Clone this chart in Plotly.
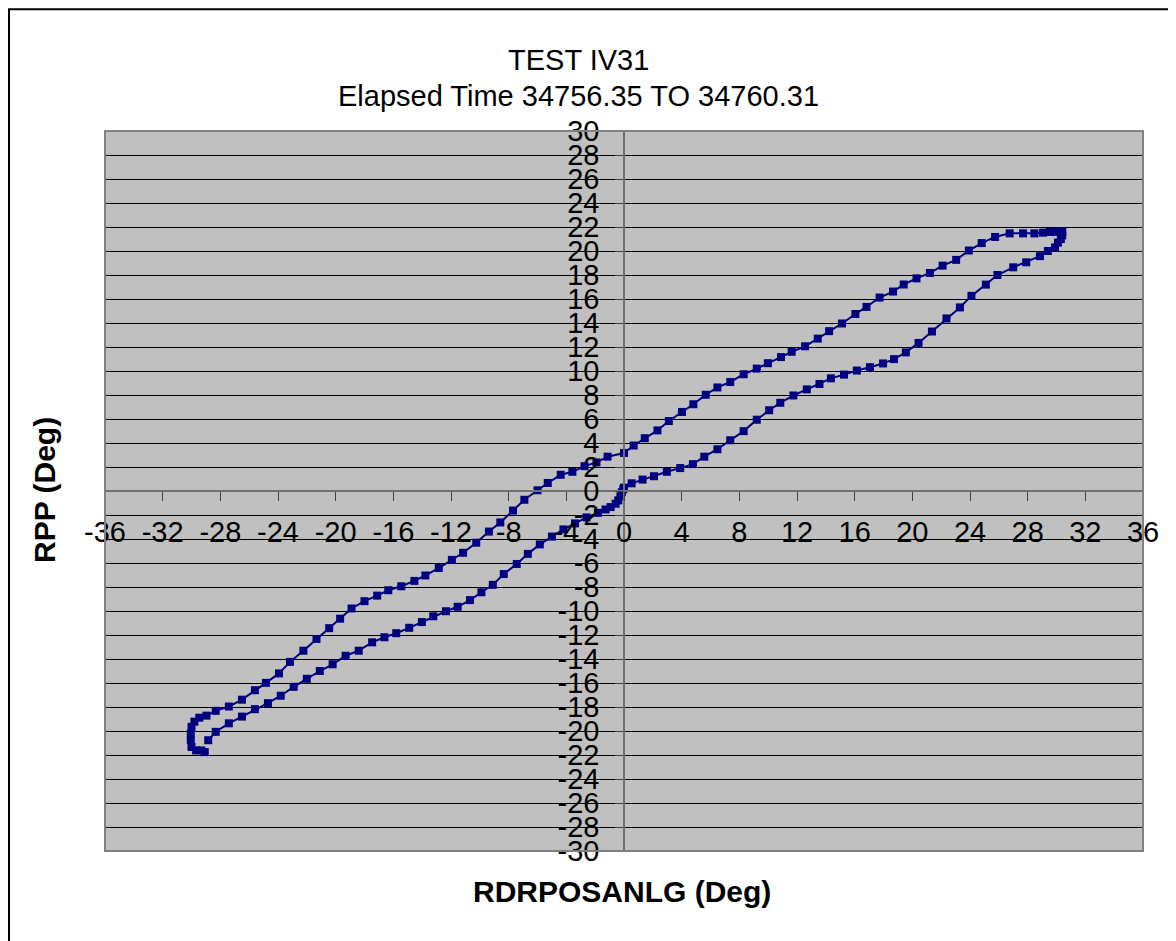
import plotly.graph_objects as go

# ---- data ----
x_lower_right = [-0.25, -0.15, -0.05, 0.0, 0.53, 1.29, 2.08, 2.97, 3.9, 4.78, 5.57, 6.48, 7.37, 8.3, 9.21,
                 10.07, 10.84, 11.75, 12.68, 13.56, 14.35, 15.26, 16.15, 17.06, 17.97, 18.73, 19.55, 20.43,
                 21.36, 22.37, 23.3, 24.1, 25.1, 25.9, 27.0, 27.9, 28.85, 29.4, 29.9, 30.1, 30.3, 30.4]
y_lower_right = [-0.45, -0.1, 0.15, 0.28, 0.64, 0.95, 1.23, 1.6, 1.91, 2.24, 2.86, 3.48, 4.23, 4.99, 5.94,
                 6.73, 7.35, 7.96, 8.47, 8.92, 9.39, 9.7, 10.04, 10.32, 10.63, 10.99, 11.55, 12.34,
                 13.29, 14.38, 15.3, 16.26, 17.2, 18.0, 18.64, 19.06, 19.57, 20.0, 20.3, 20.7, 21.0, 21.3]

x_upper_right = [30.4, 30.2, 30.0, 29.55, 29.07, 28.47, 27.68, 26.75, 25.74, 24.81, 23.92, 23.04, 22.1,
                 21.22, 20.29, 19.4, 18.66, 17.73, 16.82, 16.05, 15.12, 14.23, 13.44, 12.56, 11.63, 10.89,
                 9.98, 9.21, 8.3, 7.37, 6.48, 5.67, 4.81, 4.02, 3.11, 2.32, 1.44, 0.67, 0.0]
y_upper_right = [21.6, 21.65, 21.6, 21.59, 21.53, 21.47, 21.47, 21.47, 21.17, 20.66, 20.04, 19.26, 18.78,
                 18.17, 17.72, 17.21, 16.62, 16.12, 15.34, 14.75, 13.96, 13.32, 12.7, 12.06, 11.6, 11.16,
                 10.65, 10.2, 9.73, 9.08, 8.63, 8.02, 7.23, 6.59, 5.83, 5.05, 4.4, 3.79, 3.17]

x_upper_left = [-1.14, -1.91, -2.74, -3.58, -4.39, -5.29, -6.0, -6.91, -7.7, -8.58, -9.37, -10.25, -11.16,
                -11.94, -12.85, -13.78, -14.54, -15.45, -16.35, -17.12, -18.0, -18.9, -19.69, -20.45,
                -21.33, -22.24, -23.17, -23.93, -24.84, -25.6, -26.5, -27.41, -28.32, -28.96, -29.46,
                -29.8, -30.0, -30.05, -30.05, -30.0, -29.68, -29.32, -29.08]
y_upper_left = [2.86, 2.38, 2.07, 1.6, 1.35, 0.67, 0.06, -0.73, -1.63, -2.62, -3.38, -4.31, -5.15,
                -5.74, -6.42, -7.04, -7.49, -7.94, -8.27, -8.72, -9.18, -9.79, -10.64, -11.43,
                -12.33, -13.31, -14.24, -15.2, -15.99, -16.6, -17.39, -17.96, -18.32, -18.72, -18.89,
                -19.22, -19.65, -20.21, -20.77, -21.33, -21.62, -21.62, -21.76]

x_lower_left = [-28.84, -28.32, -27.41, -26.5, -25.6, -24.7, -23.81, -22.91, -22.0, -21.1, -20.21, -19.31,
                -18.4, -17.47, -16.62, -15.8, -14.9, -14.02, -13.23, -12.35, -11.54, -10.68, -9.89, -9.1,
                -8.34, -7.44, -6.67, -5.84, -5.0, -4.2, -3.4, -2.6, -1.81, -1.28, -0.93, -0.58, -0.4]
y_lower_left = [-20.77, -20.07, -19.36, -18.8, -18.18, -17.68, -17.06, -16.32, -15.65, -15.0, -14.44, -13.73,
                -13.31, -12.61, -12.19, -11.85, -11.4, -10.92, -10.44, -10.02, -9.65, -9.09, -8.44, -7.82,
                -6.92, -6.08, -5.24, -4.45, -3.8, -3.2, -2.7, -2.2, -1.82, -1.54, -1.34, -1.06, -0.78]

x_tick_vals = list(range(-36, 37, 4))
x_tick_text = [str(v) for v in x_tick_vals]
y_tick_vals = list(range(-30, 31, 2))
y_tick_text = [str(v) for v in y_tick_vals]

title_line1 = "TEST IV31"
title_line2 = "Elapsed Time 34756.35 TO 34760.31"
x_title = "RDRPOSANLG (Deg)"
y_title = "RPP (Deg)"

# ---- figure ----
xs = x_lower_left + x_lower_right + x_upper_right + x_upper_left
ys = y_lower_left + y_lower_right + y_upper_right + y_upper_left

FONT = "Liberation Sans, Arial, sans-serif"
NAVY = "#000080"

fig = go.Figure()
fig.add_trace(go.Scatter(
    x=xs, y=ys, mode="lines+markers",
    line=dict(color=NAVY, width=2),
    marker=dict(symbol="square", size=8, color=NAVY),
    showlegend=False, hoverinfo="x+y",
))

fig.update_layout(
    width=1168, height=933,
    margin=dict(l=97, r=33, t=123, b=90),
    paper_bgcolor="white",
    plot_bgcolor="#C0C0C0",
    font=dict(family=FONT, size=29, color="black"),
    xaxis=dict(
        range=[-36, 36], anchor="free", position=0.5,
        tickmode="array", tickvals=x_tick_vals, ticktext=x_tick_text,
        ticks="outside", ticklen=9, tickcolor="#404040", tickwidth=1,
        ticklabelstandoff=6, tickangle=0,
        showline=True, linecolor="#707070", linewidth=1.5,
        showgrid=False, zeroline=False,
        tickfont=dict(family=FONT, size=29, color="black"),
    ),
    yaxis=dict(
        range=[-30, 30], anchor="free", position=0.5,
        tickmode="array", tickvals=y_tick_vals, ticktext=y_tick_text,
        ticks="outside", ticklen=8, tickcolor="#404040", tickwidth=1,
        ticklabelstandoff=10,
        showline=True, linecolor="#707070", linewidth=1.5,
        showgrid=True, gridcolor="black", gridwidth=1,
        zeroline=False,
        tickfont=dict(family=FONT, size=29, color="black"),
    ),
    shapes=[
        dict(type="rect", xref="paper", yref="paper", x0=0, x1=1, y0=0, y1=1,
             line=dict(color="#808080", width=2), fillcolor="rgba(0,0,0,0)", layer="above"),
        dict(type="rect", xref="paper", yref="paper", x0=-0.0925, x1=1.04, y0=-0.14, y1=1.169,
             line=dict(color="black", width=2), fillcolor="rgba(0,0,0,0)"),
    ],
    annotations=[
        dict(text=title_line1, xref="paper", yref="paper", x=0.4557, y=1.0986,
             showarrow=False, xanchor="center", yanchor="middle",
             font=dict(family=FONT, size=29, color="black")),
        dict(text=title_line2, xref="paper", yref="paper", x=0.4557, y=1.0486,
             showarrow=False, xanchor="center", yanchor="middle",
             font=dict(family=FONT, size=29, color="black")),
        dict(text="<b>" + x_title + "</b>", xref="paper", yref="paper", x=0.498, y=-0.0569,
             showarrow=False, xanchor="center", yanchor="middle",
             font=dict(family=FONT, size=30, color="black")),
        dict(text="<b>" + y_title + "</b>", xref="paper", yref="paper", x=-0.0578, y=0.5014,
             showarrow=False, xanchor="center", yanchor="middle", textangle=-90,
             font=dict(family=FONT, size=30, color="black")),
    ],
)

fig.write_html("out.html")
